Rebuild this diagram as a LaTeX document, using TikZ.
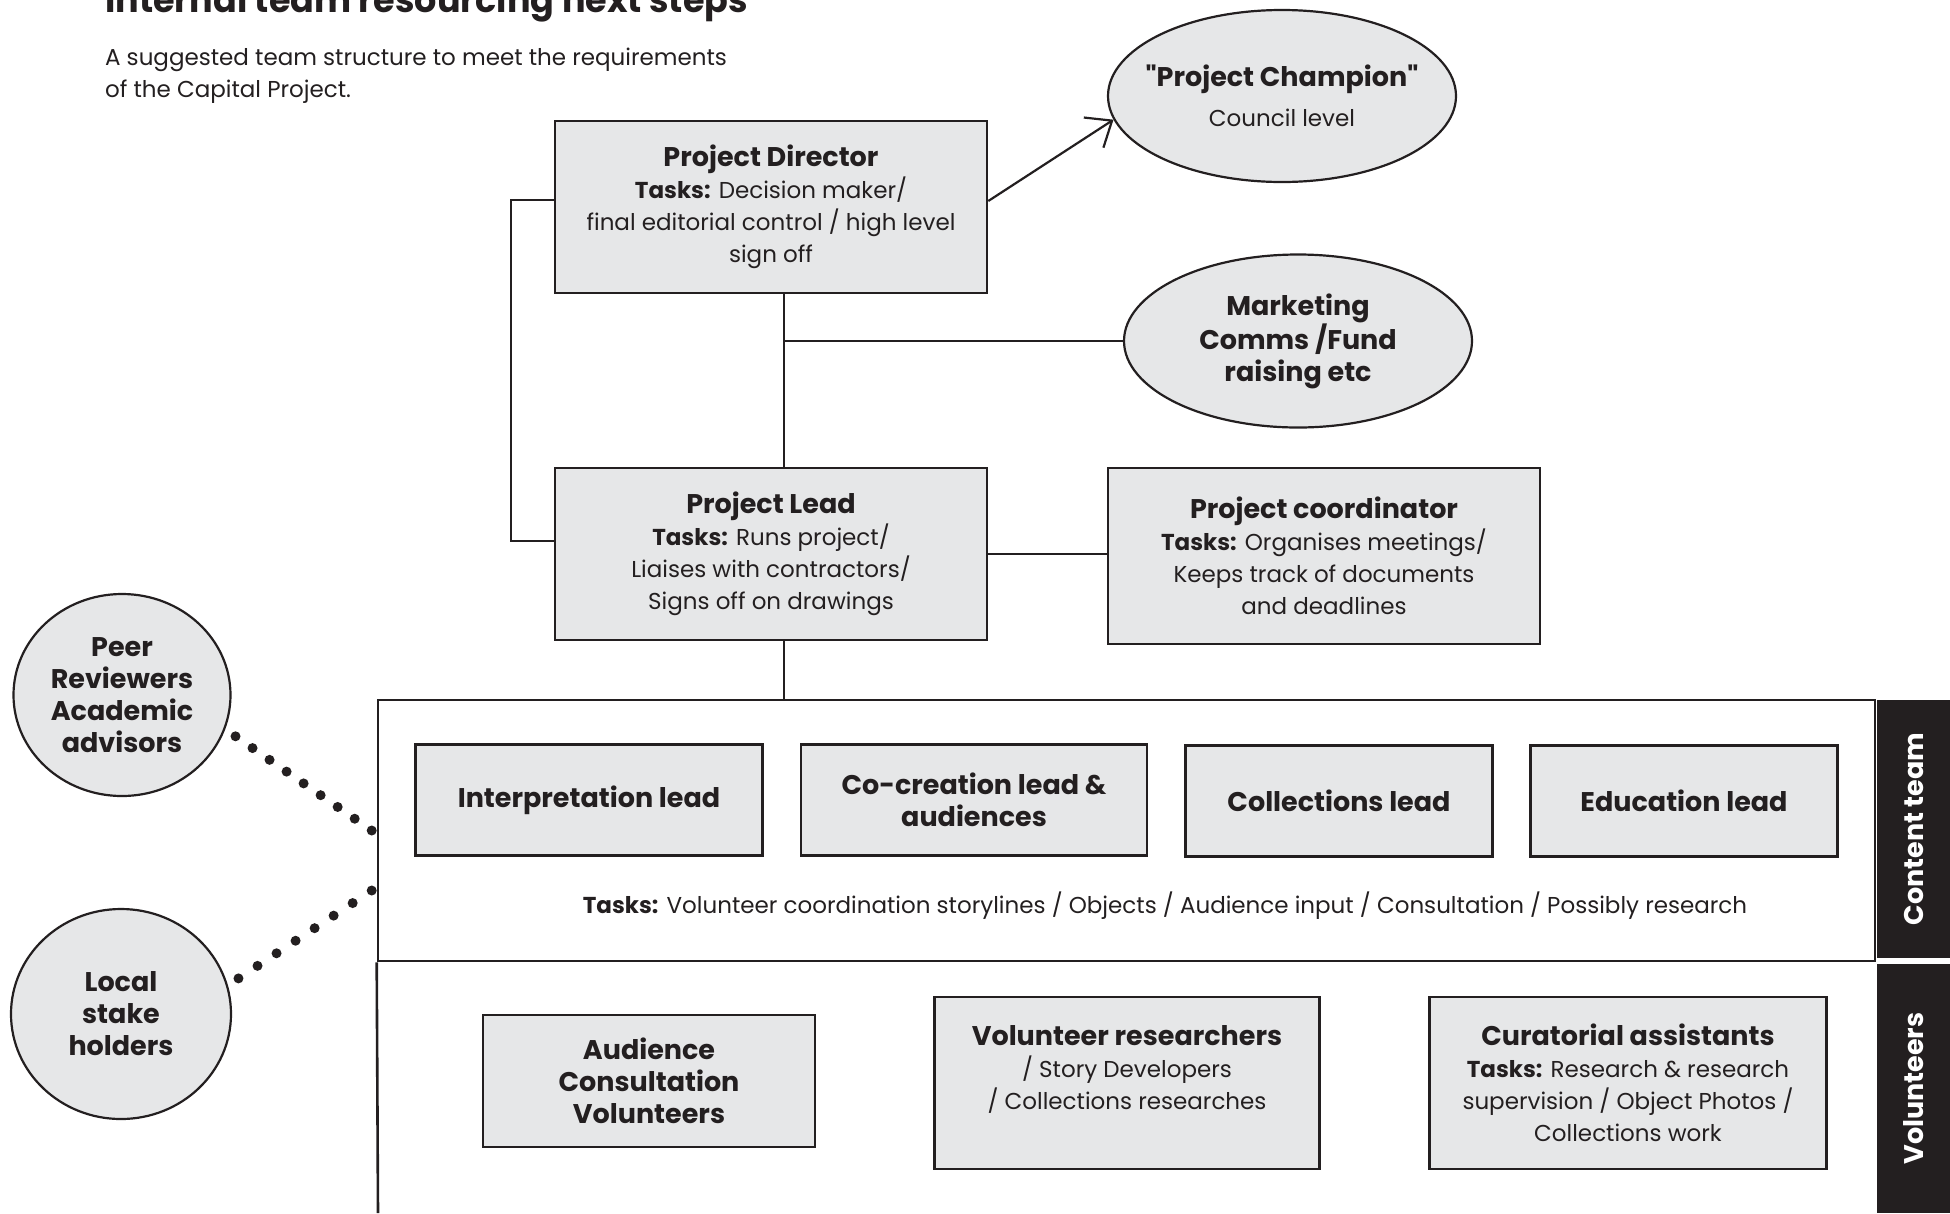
\documentclass[tikz,border=0pt]{standalone}
\usepackage{fontspec}
\setmainfont{Poppins}[Ligatures=TeXOff]
\usetikzlibrary{shapes.geometric}
\usetikzlibrary{arrows.meta}
\usepackage{xcolor}
\definecolor{boxgrey}{HTML}{E6E7E8}
\definecolor{ink}{HTML}{231F20}
\newcommand{\headtxt}{\fontsize{27}{32}\selectfont\bfseries}
\newcommand{\bodytxt}{\fontsize{23}{32}\selectfont}

\begin{document}
\begin{tikzpicture}[x=1pt,y=-1pt,line width=2.2pt,
  box/.style={rectangle,draw=ink,line width=2.6pt,fill=boxgrey,align=center,inner sep=0pt,font=\bodytxt,text=ink},
  oval/.style={ellipse,draw=ink,line width=2.2pt,fill=boxgrey,align=center,inner xsep=-60pt,inner ysep=-20pt,font=\headtxt,text=ink},
  bar/.style={rectangle,fill=ink,inner sep=0pt,minimum height=73pt,text=white,font=\headtxt,rotate=90},
  dots/.style={draw=ink,line width=10pt,line cap=round,dash pattern=on 0pt off #1},
  dots/.default=21.6pt]
\useasboundingbox (0,0) rectangle (1950,1213);

\node [anchor=base west,font=\fontsize{35}{40}\selectfont\bfseries,text=ink,inner sep=0pt,at={(104,12)}] (title) {Internal team resourcing next steps};
\node [anchor=base west,align=left,font=\bodytxt,text=ink,inner sep=0pt,at={(104,97)}] (subtitle) {A suggested team structure to meet the requirements\\of the Capital Project.};

% management
\node [box,minimum width=432pt,minimum height=172pt,at={(771,207)}] (director) {{\headtxt Project Director}\\\textbf{Tasks:} Decision maker/\\final editorial control / high level\\sign off};
\node [oval,minimum width=348pt,minimum height=172pt,at={(1282,96)}] (champion) {"Project Champion"\\[8pt]{\bodytxt\mdseries Council level}};
\node [oval,minimum width=348pt,minimum height=173pt,at={(1298,341)}] (marketing) {Marketing\\Comms /Fund\\raising etc};
\node [box,minimum width=432pt,minimum height=172pt,at={(771,554)}] (lead) {{\headtxt Project Lead}\\\textbf{Tasks:} Runs project/\\Liaises with contractors/\\Signs off on drawings};
\node [box,minimum width=432pt,minimum height=176pt,at={(1324,556)}] (coordinator) {{\headtxt Project coordinator}\\\textbf{Tasks:} Organises meetings/\\Keeps track of documents\\and deadlines};

% content team frame
\node [rectangle,draw=ink,line width=2.6pt,minimum width=1497pt,minimum height=261pt,inner sep=0pt,at={(1126.5,830.5)}] (content) {};
\coordinate (volbase) at (378,1213);
\node [bar,minimum width=258pt,at={(1913.5,829)}] (contentbar) {Content team};
\node [bar,minimum width=249pt,at={(1913.5,1088.5)}] (volbar) {Volunteers};

\node [box,font=\headtxt,minimum width=347pt,minimum height=111pt,at={(589,800)}] (interp) {Interpretation lead};
\node [box,font=\headtxt,minimum width=346pt,minimum height=111pt,at={(974,800)}] (cocreation) {Co-creation lead \&\\audiences};
\node [box,font=\headtxt,minimum width=307pt,minimum height=111pt,at={(1339,801)}] (collections) {Collections lead};
\node [box,font=\headtxt,minimum width=307pt,minimum height=111pt,at={(1684,801)}] (education) {Education lead};
\node [font=\bodytxt,text=ink,at={(1165,906)}] (tasks) {\textbf{Tasks:} Volunteer coordination storylines / Objects / Audience input / Consultation / Possibly research};

% volunteers
\node [box,font=\headtxt,minimum width=332pt,minimum height=132pt,at={(649,1081)}] (audience) {Audience\\Consultation\\Volunteers};
\node [box,text depth=32pt,minimum width=385pt,minimum height=172pt,at={(1127,1083)}] (researchers) {{\headtxt Volunteer researchers}\\/ Story Developers\\/ Collections researches};
\node [box,minimum width=397pt,minimum height=172pt,at={(1628,1083)}] (curatorial) {{\headtxt Curatorial assistants}\\\textbf{Tasks:} Research \& research\\supervision / Object Photos /\\Collections work};

% advisors
\node [oval,minimum width=217pt,minimum height=202pt,at={(122,695)}] (peer) {Peer\\Reviewers\\Academic\\advisors};
\node [oval,minimum width=220pt,minimum height=210pt,at={(121,1014)}] (local) {Local\\stake\\holders};

% connectors
\coordinate (spine) at ([xshift=13pt]director.south);
\draw [ink,-{Straight Barb[length=22pt,width=36pt]}] ([yshift=6pt]director.east) -- (champion.188);
\draw [ink] (spine) -- (spine |- lead.north);
\draw [ink] (marketing.west) -- (marketing.west -| spine);
\draw [ink] (lead.east) -- (lead.east -| coordinator.west);
\draw [ink] ([yshift=7pt]director.west) -- ++(-43,0) |- ([yshift=13pt]lead.west);
\draw [ink] (spine |- lead.south) -- (spine |- content.north);
\draw [ink,line width=2.6pt] (content.south west) -- (volbase);
\draw [dots=20.7pt] ([xshift=-5pt]content.west) -- ([xshift=12pt]peer.338);
\draw [dots=22.8pt] ([xshift=-5pt,yshift=-60pt]content.west) -- (local.15);
\end{tikzpicture}
\end{document}
